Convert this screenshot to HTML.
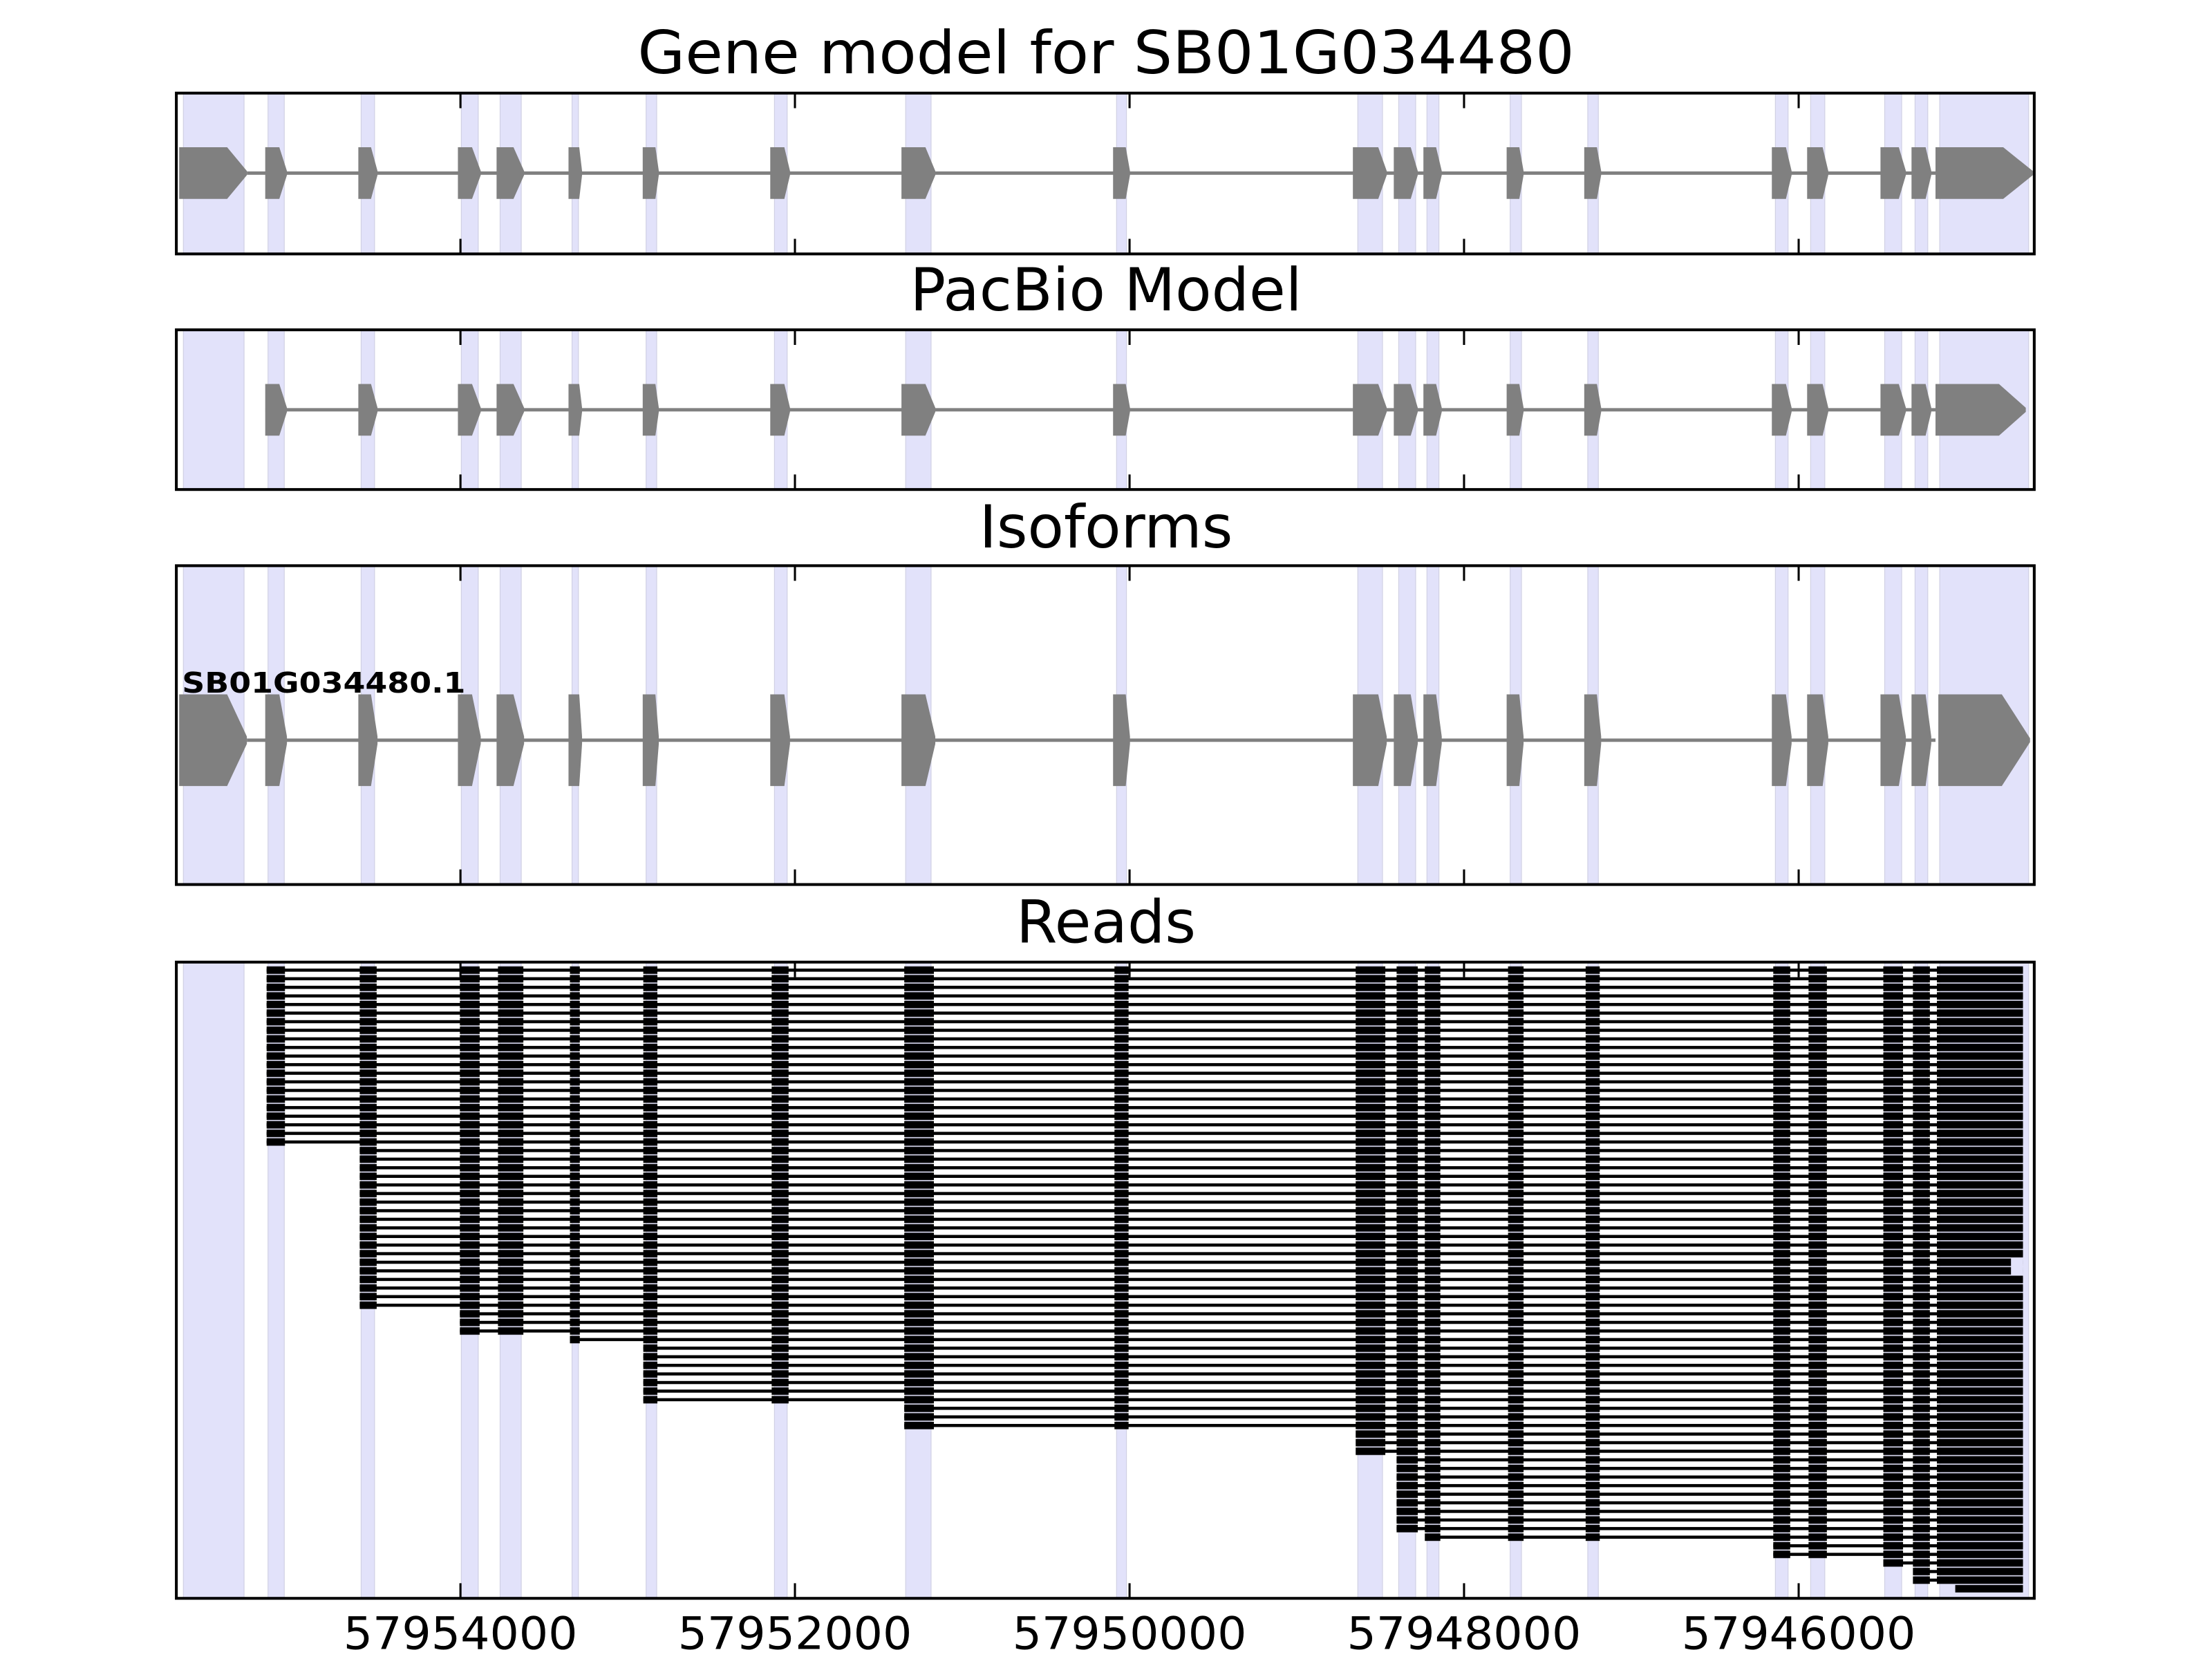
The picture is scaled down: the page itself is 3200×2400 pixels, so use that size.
<!DOCTYPE html>
<html><head><meta charset="utf-8"><style>html,body{margin:0;padding:0;background:#fff}svg{display:block}</style></head>
<body>
<svg xmlns="http://www.w3.org/2000/svg" xmlns:xlink="http://www.w3.org/1999/xlink" width="3200" height="2400" viewBox="0 0 1568 1176" font-family="DejaVu Sans, Liberation Sans, sans-serif">
<defs>
<g id="bands" fill="#e2e2fa" stroke="#d0d0e4" stroke-width="1.2">
<rect x="130" y="0" width="43" height="1" vector-effect="non-scaling-stroke"/>
<rect x="190" y="0" width="11.5" height="1" vector-effect="non-scaling-stroke"/>
<rect x="256" y="0" width="9.5" height="1" vector-effect="non-scaling-stroke"/>
<rect x="327" y="0" width="12" height="1" vector-effect="non-scaling-stroke"/>
<rect x="354.5" y="0" width="15" height="1" vector-effect="non-scaling-stroke"/>
<rect x="405.5" y="0" width="4.5" height="1" vector-effect="non-scaling-stroke"/>
<rect x="458" y="0" width="7.5" height="1" vector-effect="non-scaling-stroke"/>
<rect x="549" y="0" width="9" height="1" vector-effect="non-scaling-stroke"/>
<rect x="642" y="0" width="18" height="1" vector-effect="non-scaling-stroke"/>
<rect x="791.5" y="0" width="7" height="1" vector-effect="non-scaling-stroke"/>
<rect x="962.5" y="0" width="17.5" height="1" vector-effect="non-scaling-stroke"/>
<rect x="991.5" y="0" width="12" height="1" vector-effect="non-scaling-stroke"/>
<rect x="1011.5" y="0" width="8.5" height="1" vector-effect="non-scaling-stroke"/>
<rect x="1070.5" y="0" width="8" height="1" vector-effect="non-scaling-stroke"/>
<rect x="1125.5" y="0" width="7.5" height="1" vector-effect="non-scaling-stroke"/>
<rect x="1258.5" y="0" width="9" height="1" vector-effect="non-scaling-stroke"/>
<rect x="1283.5" y="0" width="10" height="1" vector-effect="non-scaling-stroke"/>
<rect x="1336" y="0" width="12" height="1" vector-effect="non-scaling-stroke"/>
<rect x="1357.5" y="0" width="9" height="1" vector-effect="non-scaling-stroke"/>
<rect x="1375" y="0" width="63" height="1" vector-effect="non-scaling-stroke"/>
</g>
<g id="exmid" fill="#808080">
<polygon points="188,-1 198,-1 203.4,-0.08 203.4,0.08 198,1 188,1"/>
<polygon points="254,-1 263,-1 267.6,-0.08 267.6,0.08 263,1 254,1"/>
<polygon points="324.6,-1 334.6,-1 340.8,-0.08 340.8,0.08 334.6,1 324.6,1"/>
<polygon points="352,-1 364,-1 371.5,-0.08 371.5,0.08 364,1 352,1"/>
<polygon points="403,-1 410.6,-1 412.6,-0.08 412.6,0.08 410.6,1 403,1"/>
<polygon points="455.6,-1 464.6,-1 467,-0.08 467,0.08 464.6,1 455.6,1"/>
<polygon points="546,-1 556,-1 560,-0.08 560,0.08 556,1 546,1"/>
<polygon points="639,-1 656,-1 663,-0.08 663,0.08 656,1 639,1"/>
<polygon points="789,-1 798,-1 801,-0.08 801,0.08 798,1 789,1"/>
<polygon points="959,-1 977,-1 983,-0.08 983,0.08 977,1 959,1"/>
<polygon points="988,-1 1000,-1 1005,-0.08 1005,0.08 1000,1 988,1"/>
<polygon points="1009,-1 1018,-1 1022,-0.08 1022,0.08 1018,1 1009,1"/>
<polygon points="1068,-1 1077,-1 1080,-0.08 1080,0.08 1077,1 1068,1"/>
<polygon points="1123,-1 1132,-1 1135,-0.08 1135,0.08 1132,1 1123,1"/>
<polygon points="1256,-1 1266,-1 1270,-0.08 1270,0.08 1266,1 1256,1"/>
<polygon points="1281,-1 1292,-1 1296,-0.08 1296,0.08 1292,1 1281,1"/>
<polygon points="1333,-1 1346,-1 1351,-0.08 1351,0.08 1346,1 1333,1"/>
<polygon points="1355,-1 1365,-1 1369,-0.08 1369,0.08 1365,1 1355,1"/>
</g>
<g id="ex1" fill="#808080"><polygon points="127,-1 161,-1 175,-0.08 175,0.08 161,1 127,1"/></g>
<g id="ex20" fill="#808080"><polygon points="1372,-1 1420,-1 1441,-0.08 1441,0.08 1420,1 1372,1"/></g>
<g id="ex20b" fill="#808080"><polygon points="1372,-1 1417,-1 1436,-0.08 1436,0.08 1417,1 1372,1"/></g>
<pattern id="blk" patternUnits="userSpaceOnUse" x="0" y="684.65" width="10" height="6.09"><rect x="0" y="0.4" width="10" height="5.3" fill="#000"/></pattern>
<pattern id="ln" patternUnits="userSpaceOnUse" x="0" y="684.65" width="10" height="6.09"><rect x="0" y="1.95" width="10" height="2.2" fill="#000"/></pattern>
</defs>
<rect width="1568" height="1176" fill="#fff"/>

<g font-size="42" text-anchor="middle" fill="#000">
<text x="784" y="52" textLength="664" lengthAdjust="spacingAndGlyphs">Gene model for SB01G034480</text>
<text x="784" y="220">PacBio Model</text>
<text x="784" y="388">Isoforms</text>
<text x="784" y="668">Reads</text>
</g>

<use xlink:href="#bands" transform="translate(0,66) scale(1,114)"/>
<line x1="175" y1="122.7" x2="1372" y2="122.7" stroke="#808080" stroke-width="2.4"/>
<use xlink:href="#ex1" transform="translate(0,122.7) scale(1,18.3)"/>
<use xlink:href="#exmid" transform="translate(0,122.7) scale(1,18.3)"/>
<use xlink:href="#ex20" transform="translate(0,122.7) scale(1,18.3)"/>

<use xlink:href="#bands" transform="translate(0,233.8) scale(1,113.2)"/>
<line x1="203" y1="290.5" x2="1372" y2="290.5" stroke="#808080" stroke-width="2.4"/>
<use xlink:href="#exmid" transform="translate(0,290.5) scale(1,18.3)"/>
<use xlink:href="#ex20b" transform="translate(0,290.5) scale(1,18.3)"/>

<use xlink:href="#bands" transform="translate(0,401) scale(1,226)"/>
<line x1="175" y1="524.7" x2="1372" y2="524.7" stroke="#808080" stroke-width="2.4"/>
<g transform="translate(0,524.7) scale(1,32.5)">
<use xlink:href="#ex1"/><use xlink:href="#exmid"/></g>
<polygon fill="#808080" points="1374,492.2 1419,492.2 1439,523.3 1439,526.1 1419,557.2 1374,557.2"/>
<text x="129" y="491" font-size="20" font-weight="bold" textLength="201" lengthAdjust="spacingAndGlyphs">SB01G034480.1</text>

<use xlink:href="#bands" transform="translate(0,682) scale(1,451)"/>
<g fill="url(#ln)">
<rect x="189" y="684.65" width="1245" height="127.89"/>
<rect x="255" y="812.54" width="1179" height="115.71"/>
<rect x="326" y="928.25" width="1108" height="18.27"/>
<rect x="404" y="946.52" width="1030" height="6.09"/>
<rect x="456" y="952.61" width="978" height="42.63"/>
<rect x="641" y="995.24" width="793" height="18.27"/>
<rect x="963" y="1013.51" width="471" height="18.27"/>
<rect x="990" y="1031.78" width="444" height="54.81"/>
<rect x="1011" y="1086.59" width="423" height="6.09"/>
<rect x="1257" y="1092.68" width="177" height="12.18"/>
<rect x="1343" y="1104.86" width="91" height="6.09"/>
<rect x="1357" y="1110.95" width="77" height="12.18"/>
</g>
<g fill="url(#blk)">
<rect x="189" y="684.65" width="13" height="127.89"/>
<rect x="255" y="684.65" width="12" height="243.6"/>
<rect x="326" y="684.65" width="14" height="261.87"/>
<rect x="353" y="684.65" width="18" height="261.87"/>
<rect x="404" y="684.65" width="7" height="267.96"/>
<rect x="456" y="684.65" width="10" height="310.59"/>
<rect x="547" y="684.65" width="12" height="310.59"/>
<rect x="641" y="684.65" width="21" height="328.86"/>
<rect x="790" y="684.65" width="10" height="328.86"/>
<rect x="961" y="684.65" width="21" height="347.13"/>
<rect x="990" y="684.65" width="15" height="401.94"/>
<rect x="1010" y="684.65" width="11" height="408.03"/>
<rect x="1069" y="684.65" width="11" height="408.03"/>
<rect x="1124" y="684.65" width="10" height="408.03"/>
<rect x="1257" y="684.65" width="12" height="420.21"/>
<rect x="1282" y="684.65" width="13" height="420.21"/>
<rect x="1335" y="684.65" width="14" height="426.3"/>
<rect x="1356" y="684.65" width="12" height="438.48"/>
<rect x="1373" y="684.65" width="61" height="438.48"/>
<rect x="1386" y="1123.04" width="48" height="6.09"/>
</g>
<rect x="1425.5" y="891.71" width="8.5" height="12.18" fill="#e2e2fa"/>

<g fill="none" stroke="#000" stroke-width="2">
<rect x="125" y="66" width="1317" height="114"/>
<rect x="125" y="233.8" width="1317" height="113.2"/>
<rect x="125" y="401" width="1317" height="226"/>
<rect x="125" y="682" width="1317" height="451"/>
</g>
<g stroke="#000" stroke-width="1.5">
<path d="M326.4,66v10.7M563.5,66v10.7M800.7,66v10.7M1037.8,66v10.7M1275,66v10.7 M326.4,180v-10.7M563.5,180v-10.7M800.7,180v-10.7M1037.8,180v-10.7M1275,180v-10.7"/>
<path d="M326.4,233.8v10.7M563.5,233.8v10.7M800.7,233.8v10.7M1037.8,233.8v10.7M1275,233.8v10.7 M326.4,347v-10.7M563.5,347v-10.7M800.7,347v-10.7M1037.8,347v-10.7M1275,347v-10.7"/>
<path d="M326.4,401v10.7M563.5,401v10.7M800.7,401v10.7M1037.8,401v10.7M1275,401v10.7 M326.4,627v-10.7M563.5,627v-10.7M800.7,627v-10.7M1037.8,627v-10.7M1275,627v-10.7"/>
<path d="M326.4,682v10.7M563.5,682v10.7M800.7,682v10.7M1037.8,682v10.7M1275,682v10.7 M326.4,1133v-10.7M563.5,1133v-10.7M800.7,1133v-10.7M1037.8,1133v-10.7M1275,1133v-10.7"/>
</g>
<g font-size="32" text-anchor="middle" fill="#000">
<text x="326.4" y="1169" textLength="166" lengthAdjust="spacingAndGlyphs">57954000</text>
<text x="563.5" y="1169" textLength="166" lengthAdjust="spacingAndGlyphs">57952000</text>
<text x="800.7" y="1169" textLength="166" lengthAdjust="spacingAndGlyphs">57950000</text>
<text x="1037.8" y="1169" textLength="166" lengthAdjust="spacingAndGlyphs">57948000</text>
<text x="1275" y="1169" textLength="166" lengthAdjust="spacingAndGlyphs">57946000</text>
</g>
</svg>
</body></html>
